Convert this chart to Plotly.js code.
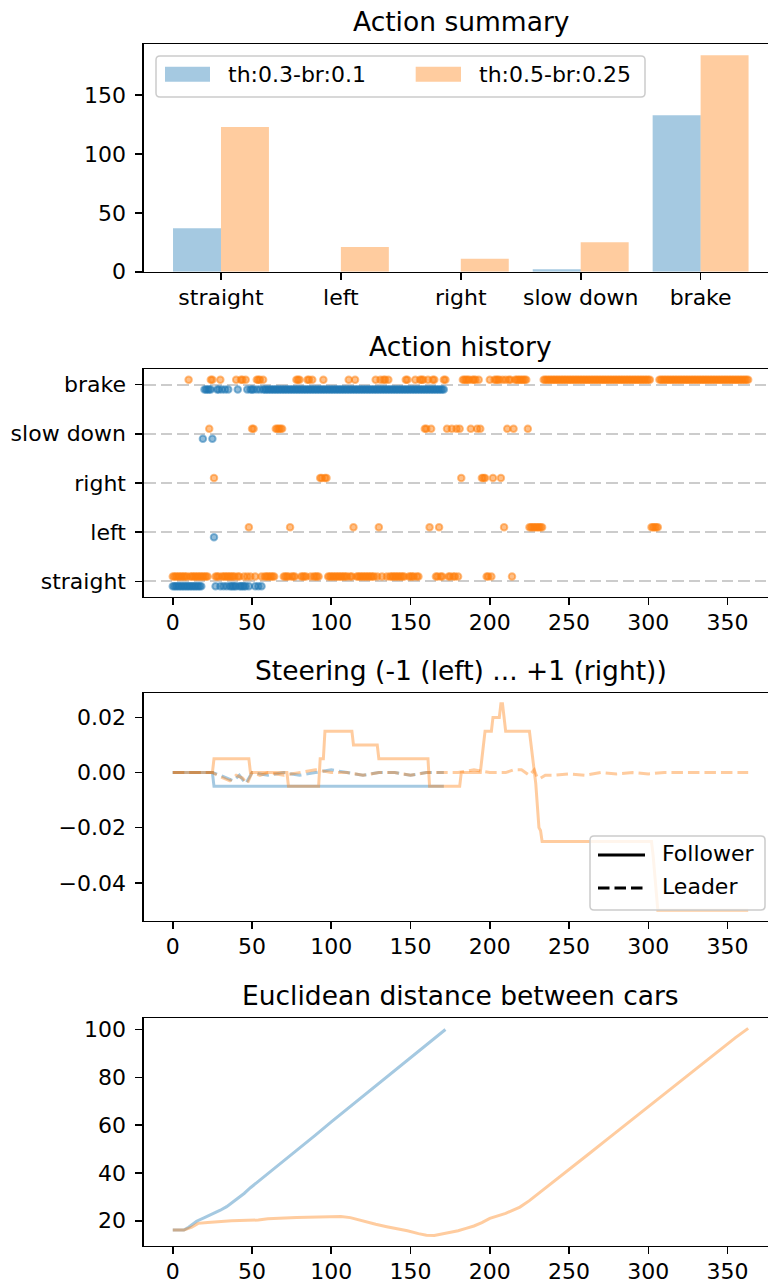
<!DOCTYPE html>
<html>
<head>
<meta charset="utf-8">
<script src="https://cdn.plot.ly/plotly-3.0.1.min.js"></script>
<style>
html,body{margin:0;padding:0;background:#fff;overflow:hidden}
#chart{width:768px;height:1284px}
</style>
</head>
<body>
<div id="chart"></div>
<script>
// ---------------- data ----------------
const actions = ['straight', 'left', 'right', 'slow down', 'brake'];
const seriesNames = ['th:0.3-br:0.1', 'th:0.5-br:0.25'];

// Action summary (counts per action)
const countsA = [37, 0, 0, 2, 133];
const countsB = [123, 21, 11, 25, 184];

// Action history, one letter per time step: S=straight L=left R=right D=slow down B=brake
const historyA =
  "SSSSSSSSSSSSSSSSSSS" + "D" + "BBBBB" + "D" + "L" +
  "SBBSBSBSBS" + "SSSSBSSSSS" + "BSBBBSBSBS" +
  "BBBBBBBBBBBBBBBBBBBBBBBBBBBBBBBBBBBBBBBBBBBBBBBBBBBBBBBBBBB" +
  "BBBBBBBBBBBBBBBBBBBBBBBBBBBBBBBBBBBBBBBBBBBBBBBBBBBBBBBB";
const historyB =
  "SSSSSSSSSS" + "BSSSSSSSSS" + "SSSDBBRSSS" + "BSSSSSSSSS" +
  "BSSBBSBSLS" + "DDSBBBSBSS" + "SSSSSDDDDD" + "SSSSLSSSBB" +
  "BSSSSBBSBS" + "SSSRRBRRSS" + "SSSSSSSSSS" + "SBSSLBSSSS" +
  "SSSSSSSSBS" + "LBSBBSBSSS" + "SSSSSSSBBS" + "SSSBSSBBBD" +
  "DBLDBBSSLS" + "SBBDSSDSSD" + "SDRBBBBBDB" + "BBDBDRRRSS" +
  "BSRBBBBRBL" + "BDBBSDBBBB" + "BBBBDLLLLL" + "LLLLBBBBBB" +
  "BBBBBBBBBBBBBBBBBBBBBBBBBBBBBBBBBBBBBBBBBBBBBBBBBBBBBBBBBBBB" +
  "BBLLLLLBBB" +
  "BBBBBBBBBBBBBBBBBBBBBBBBBBBBBBBBBBBBBBBBBBBBBBBBBBBBBB";

// Steering (follower = solid, leader = dashed)
const followerA_t = [0, 25, 26, 171];
const followerA_v = [0, 0, -0.005, -0.005];
const followerB_t = [0, 25, 26, 48, 49, 72, 73, 92, 93, 95, 96, 113, 114, 129, 130, 161, 162, 181, 182, 194,
                     195, 196, 197, 201, 202, 206, 207, 208, 210, 225, 228, 229, 231, 232, 233, 302, 303, 305, 306, 363];
const followerB_v = [0, 0, 0.005, 0.005, 0, 0, -0.005, -0.005, 0.005, 0.005, 0.015, 0.015, 0.01, 0.01, 0.005, 0.005, -0.005, -0.005, 0, 0,
                     0.005, 0.01, 0.015, 0.015, 0.02, 0.02, 0.025, 0.025, 0.015, 0.015, -0.001, -0.004, -0.02, -0.021, -0.025, -0.025, -0.03, -0.045, -0.05, -0.05];
const leaderA_t = [0, 10, 20, 25, 30, 34, 38, 42, 46, 50, 60, 70, 80, 90, 100, 110, 120, 130, 140, 150, 160, 171];
const leaderA_v = [0, 0, 0, 0, -0.001, -0.002, -0.003, -0.001, -0.004, 0, -0.001, 0, -0.001, 0, 0.001, 0, -0.001, 0, 0, -0.001, 0, 0];
const leaderB_t = [0, 10, 20, 25, 28, 32, 36, 40, 44, 47, 50, 55, 60, 70, 80, 90, 100, 110, 120, 130, 140, 150, 160, 170,
                   180, 190, 200, 210, 215, 220, 225, 228, 230, 232, 235, 240, 250, 260, 270, 280, 290, 300, 310, 320, 330, 340, 350, 363];
const leaderB_v = [0, 0, 0, 0, -0.001, -0.002, -0.003, -0.001, -0.002, -0.004, 0, -0.001, 0, -0.001, 0, 0.001, 0, 0, -0.001, 0, 0, -0.001, 0, 0,
                   0, 0.001, 0, 0, 0.001, 0.001, -0.001, 0.001, -0.002, -0.002, -0.001, -0.001, -0.0005, -0.001, 0, -0.0005, 0, -0.0005, 0, 0, 0, 0, 0, 0];

// Euclidean distance between cars
const distA_t = [0, 7, 10, 15, 20, 25, 30, 34, 40, 45, 49, 60, 70, 80, 90, 100, 110, 120, 130, 140, 150, 160, 172];
const distA_v = [16.1, 16.1, 17.3, 19.8, 21.3, 22.8, 24.4, 25.9, 28.7, 31.4, 33.8, 39.6, 45.0, 50.4, 55.8, 61.4, 66.8, 72.2, 77.6, 83.0, 88.4, 93.8, 100.0];
const distB_t = [0, 7, 12, 16, 22, 30, 37, 54, 60, 78, 90, 100, 106, 112, 120, 128, 135, 142, 148, 155, 160, 165, 170,
                 175, 180, 185, 190, 195, 200, 210, 219, 225, 230, 238, 245, 252, 262, 273, 284, 294, 305, 315, 326, 336, 346, 355, 363];
const distB_v = [16.1, 16.1, 17.3, 18.9, 19.3, 19.7, 20.0, 20.3, 20.8, 21.4, 21.7, 21.9, 21.8, 21.3, 19.8, 18.5, 17.5, 16.7, 15.8, 14.6, 13.9, 13.8, 14.4,
                 15.0, 15.8, 16.8, 17.8, 19.2, 21.0, 23.1, 25.7, 28.4, 31.0, 34.9, 38.6, 42.4, 47.7, 53.5, 59.3, 64.6, 70.4, 75.6, 81.4, 86.7, 91.9, 96.6, 100.5];

const xTicks = [0, 50, 100, 150, 200, 250, 300, 350];
const legendLabels = ['Follower', 'Leader'];

// ---------------- styling ----------------
const FONT = 'DejaVu Sans';
const W = 768, H = 1284;
const BLUE = 'rgba(31,119,180,0.4)', ORANGE = 'rgba(255,127,14,0.4)';
const BLUE_M = 'rgba(31,119,180,0.5)', ORANGE_M = 'rgba(255,127,14,0.5)';
const px = p => p / W;
const py = p => 1 - p / H;
const dom = (top, bottom) => [py(bottom), py(top)];
const xdom = [144 / W, 1];
const tops = [44.3, 369.3, 693.3, 1018.3];
const AXH = 227.4;

const axisBase = {
  showline: true, linecolor: '#000', linewidth: 1.6,
  ticks: 'outside', ticklen: 7, tickwidth: 1.6, tickcolor: '#000',
  tickfont: {family: FONT, size: 22, color: '#000'},
  zeroline: false, showgrid: false, fixedrange: true, ticklabelstandoff: 5
};
const xBase = Object.assign({}, axisBase, {mirror: true, domain: xdom, ticklabelstandoff: -2});
const xLine = Object.assign({}, xBase, {range: [-18.15, 375.5], tickvals: xTicks});

const code = {S: 0, L: 1, R: 2, D: 3, B: 4};
function historyXY(hist, off) {
  const x = [], y = [];
  for (let i = 0; i < hist.length; i++) { x.push(i); y.push(code[hist[i]] + off); }
  return {x, y};
}
const hA = historyXY(historyA, -0.1);
const hB = historyXY(historyB, 0.1);

const traces = [
  // Action summary
  {type: 'bar', x: actions, y: countsA, name: seriesNames[0], marker: {color: BLUE, line: {width: 0}}, xaxis: 'x', yaxis: 'y'},
  {type: 'bar', x: actions, y: countsB, name: seriesNames[1], marker: {color: ORANGE, line: {width: 0}}, xaxis: 'x', yaxis: 'y'},
  // Action history
  {type: 'scatter', mode: 'markers', x: hA.x, y: hA.y, name: seriesNames[0], xaxis: 'x2', yaxis: 'y2',
   marker: {size: 6.5, color: BLUE_M, line: {width: 2, color: BLUE_M}}},
  {type: 'scatter', mode: 'markers', x: hB.x, y: hB.y, name: seriesNames[1], xaxis: 'x2', yaxis: 'y2',
   marker: {size: 6.5, color: ORANGE_M, line: {width: 2, color: ORANGE_M}}},
  // Steering
  {type: 'scatter', mode: 'lines', x: followerA_t, y: followerA_v, name: seriesNames[0] + ' follower', xaxis: 'x3', yaxis: 'y3', line: {color: BLUE, width: 3}},
  {type: 'scatter', mode: 'lines', x: leaderA_t, y: leaderA_v, name: seriesNames[0] + ' leader', xaxis: 'x3', yaxis: 'y3', line: {color: BLUE, width: 3, dash: '11.5px,5px'}},
  {type: 'scatter', mode: 'lines', x: followerB_t, y: followerB_v, name: seriesNames[1] + ' follower', xaxis: 'x3', yaxis: 'y3', line: {color: ORANGE, width: 3}},
  {type: 'scatter', mode: 'lines', x: leaderB_t, y: leaderB_v, name: seriesNames[1] + ' leader', xaxis: 'x3', yaxis: 'y3', line: {color: ORANGE, width: 3, dash: '11.5px,5px'}},
  // Distance
  {type: 'scatter', mode: 'lines', x: distA_t, y: distA_v, name: seriesNames[0], xaxis: 'x4', yaxis: 'y4', line: {color: BLUE, width: 3}},
  {type: 'scatter', mode: 'lines', x: distB_t, y: distB_v, name: seriesNames[1], xaxis: 'x4', yaxis: 'y4', line: {color: ORANGE, width: 3}}
];

// ---- titles ----
const titles = ['Action summary', 'Action history', 'Steering (-1 (left) ... +1 (right))', 'Euclidean distance between cars'];
const annotations = titles.map((t, i) => ({
  text: t, xref: 'paper', yref: 'paper', x: 460.5 / W, y: py(tops[i] - 5.3),
  xanchor: 'center', yanchor: 'bottom', showarrow: false,
  font: {family: FONT, size: 26.5, color: '#000'}
}));

// ---- legends (matplotlib-style boxes) ----
function roundRect(x0, y0, x1, y1, r) {
  const X = v => px(v), Y = v => py(v);
  return 'M' + X(x0 + r) + ',' + Y(y0) + ' L' + X(x1 - r) + ',' + Y(y0) +
    ' Q' + X(x1) + ',' + Y(y0) + ' ' + X(x1) + ',' + Y(y0 + r) +
    ' L' + X(x1) + ',' + Y(y1 - r) + ' Q' + X(x1) + ',' + Y(y1) + ' ' + X(x1 - r) + ',' + Y(y1) +
    ' L' + X(x0 + r) + ',' + Y(y1) + ' Q' + X(x0) + ',' + Y(y1) + ' ' + X(x0) + ',' + Y(y1 - r) +
    ' L' + X(x0) + ',' + Y(y0 + r) + ' Q' + X(x0) + ',' + Y(y0) + ' ' + X(x0 + r) + ',' + Y(y0) + ' Z';
}
const boxStyle = {type: 'path', xref: 'paper', yref: 'paper', layer: 'above',
  fillcolor: 'rgba(255,255,255,0.8)', line: {color: '#cccccc', width: 1.5}};
const LEG_FONT = {family: FONT, size: 22, color: '#000'};
const legText = (t, x, baseline) => ({text: t, xref: 'paper', yref: 'paper', x: px(x), y: py(baseline + 6.2),
  xanchor: 'left', yanchor: 'bottom', showarrow: false, font: LEG_FONT});

const shapes = [
  // summary legend
  Object.assign({}, boxStyle, {path: roundRect(156, 56, 645, 97, 4)}),
  {type: 'rect', xref: 'paper', yref: 'paper', layer: 'above', x0: px(165), x1: px(210), y0: py(81.7), y1: py(66.7), fillcolor: BLUE, line: {width: 0}},
  {type: 'rect', xref: 'paper', yref: 'paper', layer: 'above', x0: px(415.7), x1: px(461), y0: py(81.7), y1: py(66.7), fillcolor: ORANGE, line: {width: 0}},
  // steering legend
  Object.assign({}, boxStyle, {path: roundRect(590, 836, 765, 910, 4)}),
  {type: 'line', xref: 'paper', yref: 'paper', layer: 'above', x0: px(598), x1: px(645), y0: py(855), y1: py(855), line: {color: '#000', width: 3}},
  {type: 'line', xref: 'paper', yref: 'paper', layer: 'above', x0: px(598), x1: px(645), y0: py(888), y1: py(888), line: {color: '#000', width: 3, dash: '11.5px,5px'}}
];
annotations.push(legText(seriesNames[0], 226, 83.3));
annotations.push(legText(seriesNames[1], 477, 83.3));
annotations.push(legText(legendLabels[0], 660, 861.7));
annotations.push(legText(legendLabels[1], 660, 895));

const layout = {
  width: W, height: H,
  margin: {l: 0, r: 0, t: 0, b: 0},
  paper_bgcolor: '#fff', plot_bgcolor: '#fff',
  font: {family: FONT, size: 22, color: '#000'},
  barmode: 'group', bargap: 0.2, bargroupgap: 0,
  showlegend: false,
  xaxis: Object.assign({}, xBase, {anchor: 'y', type: 'category',
    categoryorder: 'array', categoryarray: actions, range: [-0.642, 4.562]}),
  yaxis: Object.assign({}, axisBase, {domain: dom(tops[0], tops[0] + AXH), anchor: 'x', range: [0, 193.2], tickvals: [0, 50, 100, 150]}),
  xaxis2: Object.assign({}, xLine, {anchor: 'y2'}),
  yaxis2: Object.assign({}, axisBase, {domain: dom(tops[1], tops[1] + AXH), anchor: 'x2', range: [-0.31, 4.31],
    tickvals: [0, 1, 2, 3, 4], ticktext: actions, showgrid: true, gridcolor: '#cccccc', gridwidth: 2, griddash: '11.5px,5px'}),
  xaxis3: Object.assign({}, xLine, {anchor: 'y3'}),
  yaxis3: Object.assign({}, axisBase, {domain: dom(tops[2], tops[2] + AXH), anchor: 'x3', range: [-0.05375, 0.02875],
    tickvals: [-0.04, -0.02, 0, 0.02], ticktext: ['\u22120.04', '\u22120.02', '0.00', '0.02']}),
  xaxis4: Object.assign({}, xLine, {anchor: 'y4'}),
  yaxis4: Object.assign({}, axisBase, {domain: dom(tops[3], tops[3] + AXH), anchor: 'x4', range: [9.55, 104.7], tickvals: [20, 40, 60, 80, 100]}),
  shapes: shapes,
  annotations: annotations
};

Plotly.newPlot('chart', traces, layout, {displayModeBar: false, staticPlot: true});
</script>
</body>
</html>
